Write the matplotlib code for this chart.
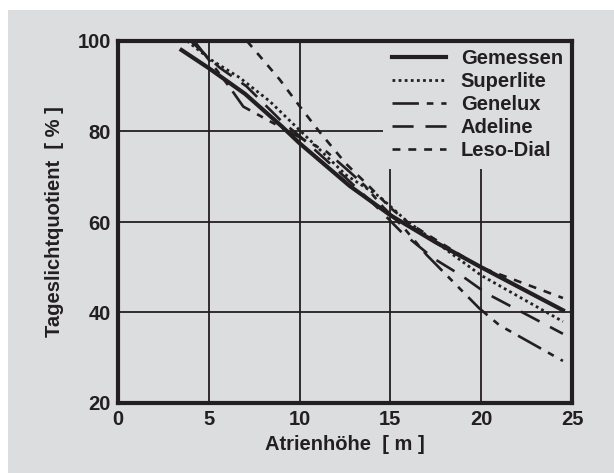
import matplotlib
matplotlib.use("Agg")
import matplotlib.pyplot as plt

plt.rcParams["font.family"] = ["Liberation Sans", "DejaVu Sans"]
plt.rcParams["font.weight"] = "bold"

BG = "#dcdddf"
INK = "#231f20"
FS = 14.5

# -----------------------------
# Data
# -----------------------------
gemessen_x = [3.5, 5, 7, 9, 10, 12.75, 15, 17.5, 20, 24.5]
gemessen_y = [98, 94, 88.3, 81.2, 77.4, 68, 61.5, 55.5, 50, 40.5]

superlite_x = [3.8, 5.1, 6.7, 8.35, 10, 12.55, 14.4, 15.85, 20, 24.5]
superlite_y = [100, 95.9, 91.9, 86.7, 80.3, 70.4, 65.6, 60.4, 48.2, 38]

genelux_x = [4.2, 5.3, 6.2, 6.9, 8.35, 10, 11.5, 12.75, 13.6, 14.6, 15.7, 17, 19.9, 21, 24.5]
genelux_y = [100, 94.3, 89.5, 85.5, 82.3, 78.7, 75.5, 71.1, 68, 63.3, 58.9, 52.7, 40.9, 37.2, 29.3]

adeline_x = [4.0, 5.6, 7.07, 9.0, 10, 12.75, 14.2, 15.6, 17.4, 18.9, 20.3, 24.5]
adeline_y = [100, 94.1, 90, 82.3, 79, 69, 63.5, 57.8, 51.9, 48.2, 44.2, 35.3]

lesodial_x = [7.1, 8.9, 10, 11.1, 12.55, 13.85, 15.04, 16.04, 19.9, 24.5]
lesodial_y = [100, 91.5, 85.6, 79.9, 72.9, 67.8, 63, 59.7, 50.1, 43.2]

x_ticks = [0, 5, 10, 15, 20, 25]
y_ticks = [20, 40, 60, 80, 100]

fig = plt.figure(figsize=(6.14, 4.73), dpi=100)
fig.patch.set_facecolor("white")
# gray panel behind everything (white strip left and top)
fig.patches.append(plt.Rectangle((8 / 614, 0), 1, 1 - 10 / 473,
                                 transform=fig.transFigure, facecolor=BG,
                                 edgecolor="none", zorder=-10))

ax = fig.add_axes([118 / 614, 1 - 403 / 473, (572 - 118) / 614, (403 - 41) / 473])
ax.set_facecolor(BG)

ax.plot(gemessen_x, gemessen_y, color=INK, lw=3.0, ls="-", label="Gemessen")
ax.plot(superlite_x, superlite_y, color=INK, lw=2.0, ls=(0, (1, 1.2)), label="Superlite")
ax.plot(genelux_x, genelux_y, color=INK, lw=1.9, ls=(0, (10, 3, 2.5, 3, 2.5, 3)), label="Genelux")
ax.plot(adeline_x, adeline_y, color=INK, lw=1.9, ls=(0, (8, 4.5)), label="Adeline")
ax.plot(lesodial_x, lesodial_y, color=INK, lw=1.9, ls=(0, (3, 3)), label="Leso-Dial")

ax.set_xlim(0, 25)
ax.set_ylim(20, 100)
ax.set_xticks(x_ticks)
ax.set_yticks(y_ticks)
ax.tick_params(length=0, pad=5, labelsize=FS, colors=INK)
for lab in ax.get_xticklabels() + ax.get_yticklabels():
    lab.set_fontweight("bold")

ax.set_axisbelow(True)
ax.grid(True, color=INK, lw=1.3)

# frame stays on top of the legend box
for spine in ax.spines.values():
    spine.set_color(INK)
    spine.set_linewidth(3)
    spine.set_zorder(10)

ax.set_xlabel("Atrienhöhe  [ m ]", fontsize=FS, fontweight="bold", color=INK, labelpad=4)
ax.set_ylabel("Tageslichtquotient  [ % ]", fontsize=FS, fontweight="bold", color=INK, labelpad=10)

leg = ax.legend(loc="upper right", bbox_to_anchor=(1.0, 1.004), borderaxespad=0,
                frameon=True, facecolor=BG, edgecolor="none", framealpha=1,
                fancybox=False, handlelength=2.65, handletextpad=0.75,
                labelspacing=0.2, borderpad=0.45,
                prop={"size": FS, "weight": "bold"})
for t in leg.get_texts():
    t.set_color(INK)

fig.savefig("out.png", dpi=100, facecolor=fig.get_facecolor())
